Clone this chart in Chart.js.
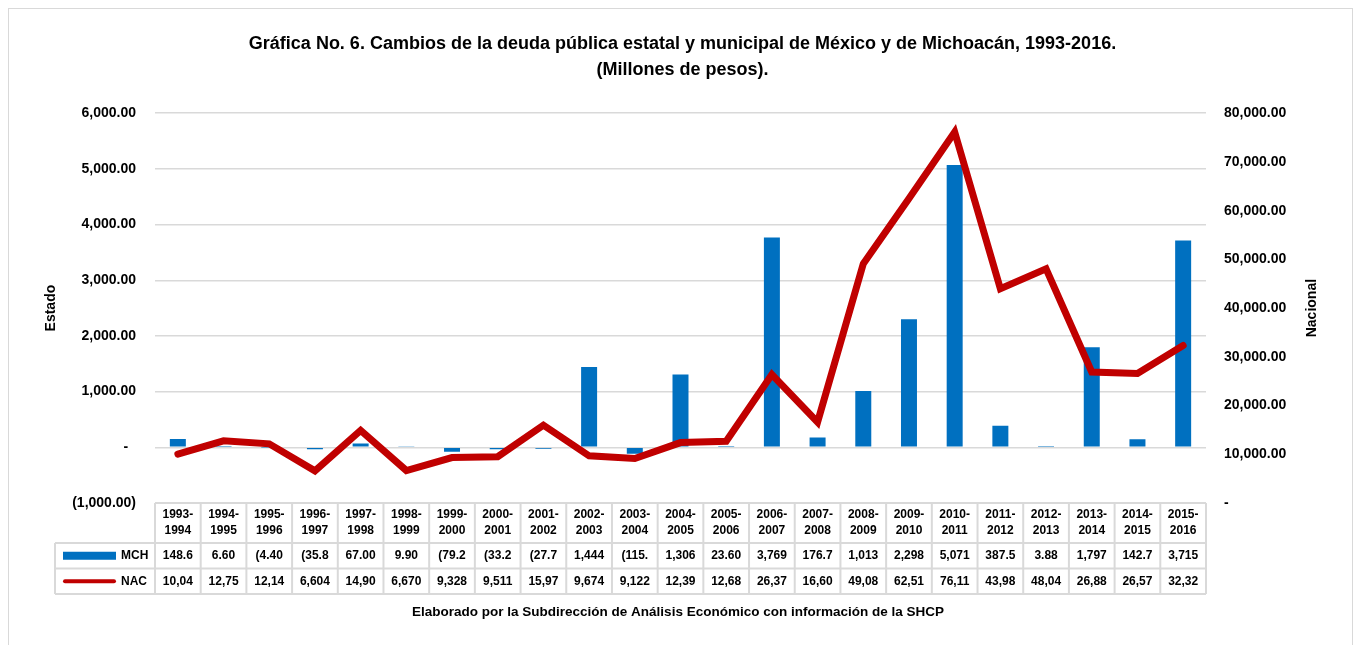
<!DOCTYPE html>
<html lang="es">
<head>
<meta charset="utf-8">
<title>Gráfica No. 6</title>
<script src="https://cdn.jsdelivr.net/npm/chart.js@4.4.0/dist/chart.umd.min.js"></script>
<style>
    html, body { margin: 0; padding: 0; background: #fff; overflow: hidden; }
    #marco { position: absolute; left: 8px; top: 8px; width: 1343px; height: 700px; border: 1px solid #d9d9d9; }
    #contenedor { position: absolute; left: 0; top: 0; width: 1355px; height: 645px; }
</style>
</head>
<body>
<div id="marco"></div>
<div id="contenedor"><canvas id="grafica" width="1355" height="645"></canvas></div>
<script>
// Datos
const periodos = ['1993-1994', '1994-1995', '1995-1996', '1996-1997', '1997-1998', '1998-1999',
    '1999-2000', '2000-2001', '2001-2002', '2002-2003', '2003-2004', '2004-2005', '2005-2006',
    '2006-2007', '2007-2008', '2008-2009', '2009-2010', '2010-2011', '2011-2012', '2012-2013',
    '2013-2014', '2014-2015', '2015-2016'];

// Michoacán (eje Estado)
const mch = [148.6, 6.6, -4.4, -35.8, 67.0, 9.9, -79.2, -33.2, -27.7, 1444, -115, 1306, 23.6,
    3769, 176.7, 1013, 2298, 5071, 387.5, 3.88, 1797, 142.7, 3715];

// Nacional (eje Nacional)
const nac = [10045, 12755, 12145, 6604, 14905, 6670, 9328, 9511, 15975, 9674, 9122, 12395, 12685,
    26375, 16605, 49085, 62515, 76115, 43985, 48045, 26885, 26575, 32325];

const titulo = ['Gráfica No. 6. Cambios de la deuda pública estatal y municipal de México y de Michoacán, 1993-2016.',
    '(Millones de pesos).'];
const fuente = 'Elaborado por la Subdirección de Análisis Económico con información de la SHCP';

const azul = '#0070C0';
const rojo = '#C00000';
const gris = '#d9d9d9';
const letra = '"Liberation Sans", Arial, sans-serif';

function formato(v) {
    const s = Math.abs(v).toLocaleString('en-US', { minimumFractionDigits: 2, maximumFractionDigits: 2 });
    return v < 0 ? '(' + s + ')' : s;
}

// como en Excel, la celda corta el número
function celda(v) {
    return formato(v).slice(0, 5);
}

const tablaDatos = {
    id: 'tablaDatos',
    afterDraw(chart) {
        const ctx = chart.ctx;
        const area = chart.chartArea;
        const xs = chart.scales.x;
        const ancho = (area.right - area.left) / periodos.length;
        const arriba = area.bottom;
        const altoEnc = 40;
        const alto = 25.5;
        const izq = 55;
        const abajo = arriba + altoEnc + alto * 2;

        ctx.save();
        ctx.strokeStyle = gris;
        ctx.lineWidth = 2;

        ctx.beginPath();
        ctx.moveTo(area.left, arriba);
        ctx.lineTo(area.right, arriba);
        for (let f = 0; f < 3; f++) {
            const y = arriba + altoEnc + alto * f;
            ctx.moveTo(izq, y);
            ctx.lineTo(area.right, y);
        }
        ctx.moveTo(izq, arriba + altoEnc);
        ctx.lineTo(izq, abajo);
        for (let i = 0; i <= periodos.length; i++) {
            const x = area.left + ancho * i;
            ctx.moveTo(x, arriba);
            ctx.lineTo(x, abajo);
        }
        ctx.stroke();

        ctx.fillStyle = '#000';
        ctx.font = 'bold 12px ' + letra;
        ctx.textAlign = 'center';
        ctx.textBaseline = 'middle';
        const y1 = arriba + altoEnc + alto / 2;
        const y2 = y1 + alto;
        for (let i = 0; i < periodos.length; i++) {
            const x = xs.getPixelForValue(i);
            const partes = periodos[i].split('-');
            ctx.fillText(partes[0] + '-', x, arriba + 12);
            ctx.fillText(partes[1], x, arriba + 28);
            ctx.fillText(celda(mch[i]), x, y1);
            ctx.fillText(celda(nac[i]), x, y2);
        }

        // leyenda dentro de la tabla
        ctx.fillStyle = azul;
        ctx.fillRect(63, y1 - 4, 53, 8);
        ctx.strokeStyle = rojo;
        ctx.lineWidth = 4;
        ctx.lineCap = 'round';
        ctx.beginPath();
        ctx.moveTo(65, y2);
        ctx.lineTo(114, y2);
        ctx.stroke();
        ctx.fillStyle = '#000';
        ctx.textAlign = 'left';
        ctx.fillText('MCH', 121, y1);
        ctx.fillText('NAC', 121, y2);

        // título del eje derecho
        ctx.font = 'bold 14px ' + letra;
        ctx.textAlign = 'center';
        ctx.translate(1312, (area.top + area.bottom) / 2);
        ctx.rotate(-Math.PI / 2);
        ctx.fillText('Nacional', 0, 0);
        ctx.restore();

        ctx.save();
        ctx.fillStyle = '#000';
        ctx.font = 'bold 13.5px ' + letra;
        ctx.textAlign = 'center';
        ctx.textBaseline = 'middle';
        ctx.fillText(fuente, 678, 612);
        ctx.restore();
    }
};

new Chart(document.getElementById('grafica'), {
    type: 'bar',
    data: {
        labels: periodos,
        datasets: [{
            type: 'line',
            label: 'NAC',
            data: nac,
            yAxisID: 'y1',
            borderColor: rojo,
            borderWidth: 7,
            borderCapStyle: 'round',
            borderJoinStyle: 'miter',
            pointRadius: 0,
            tension: 0,
            order: 0
        }, {
            type: 'bar',
            label: 'MCH',
            data: mch,
            yAxisID: 'y',
            backgroundColor: azul,
            barPercentage: 0.35,
            categoryPercentage: 1,
            order: 1
        }]
    },
    options: {
        responsive: false,
        animation: false,
        layout: { padding: { left: 10, right: 0, top: 0, bottom: 142 } },
        plugins: {
            legend: { display: false },
            tooltip: { enabled: false },
            title: {
                display: true,
                text: titulo,
                color: '#000',
                font: { family: letra, size: 18, weight: 'bold', lineHeight: 1.45 },
                padding: { top: 31, bottom: 30 }
            }
        },
        scales: {
            x: { display: false },
            y: {
                position: 'left',
                min: -1000,
                max: 6000,
                afterFit(scale) { scale.width = 145; },
                ticks: {
                    stepSize: 1000,
                    padding: 19,
                    color: '#000',
                    font: { family: letra, size: 14, weight: 'bold' },
                    callback: v => v === 0 ? '-  ' : formato(v)
                },
                grid: { color: gris, lineWidth: 1.5, drawTicks: false },
                border: { display: false },
                title: {
                    display: true,
                    text: 'Estado',
                    color: '#000',
                    font: { family: letra, size: 14, weight: 'bold' },
                    padding: { top: 33, bottom: 0 }
                }
            },
            y1: {
                position: 'right',
                min: 0,
                max: 80000,
                afterFit(scale) { scale.width = 149; },
                ticks: {
                    stepSize: 10000,
                    padding: 18,
                    color: '#000',
                    font: { family: letra, size: 14, weight: 'bold' },
                    callback: v => v === 0 ? '-' : formato(v)
                },
                grid: { display: false, drawTicks: false },
                border: { display: false }
            }
        }
    },
    plugins: [tablaDatos]
});
</script>
</body>
</html>
